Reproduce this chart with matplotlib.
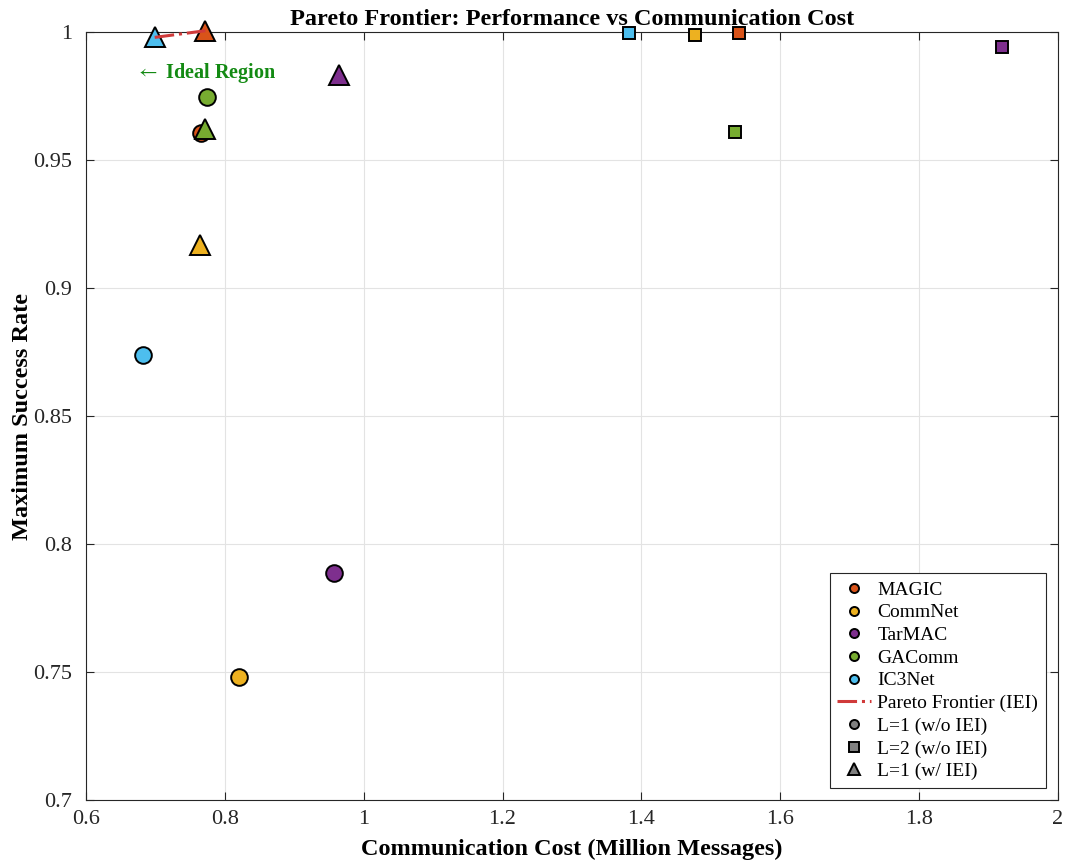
import numpy as np
import matplotlib
matplotlib.use('Agg')
import matplotlib.pyplot as plt
from matplotlib.lines import Line2D

plt.rcParams['font.family'] = ['Liberation Serif', 'DejaVu Serif']
plt.rcParams['mathtext.fontset'] = 'stix'

methods = ['MAGIC', 'CommNet', 'TarMAC', 'GAComm', 'IC3Net']
colors = ['#D95319', '#EDB120', '#7E2F8E', '#77AC30', '#4DBEEE']

# L=1 without IEI (circles)
cost_l1 = [0.766, 0.821, 0.957, 0.774, 0.682]
succ_l1 = [0.9605, 0.7482, 0.7888, 0.9745, 0.8738]
# L=2 without IEI (squares)
cost_l2 = [1.540, 1.477, 1.919, 1.535, 1.382]
succ_l2 = [0.9998, 0.9990, 0.9943, 0.9608, 0.9997]
# L=1 with IEI (triangles)
cost_iei = [0.772, 0.764, 0.965, 0.772, 0.699]
succ_iei = [1.0005, 0.9167, 0.9832, 0.9620, 0.9979]

# pareto frontier over the IEI runs
pareto_methods = ['IC3Net', 'MAGIC']

xticks = [0.6, 0.8, 1.0, 1.2, 1.4, 1.6, 1.8, 2.0]
xtick_labels = ['0.6', '0.8', '1', '1.2', '1.4', '1.6', '1.8', '2']
yticks = [0.7, 0.75, 0.8, 0.85, 0.9, 0.95, 1.0]
ytick_labels = ['0.7', '0.75', '0.8', '0.85', '0.9', '0.95', '1']

fig = plt.figure(figsize=(10.68, 8.65), dpi=100)
ax = fig.add_axes([0.0805, 0.0751, 0.9101, 0.8879])

edge = dict(markeredgecolor='black', markeredgewidth=1.4, linestyle='none')
for i, m in enumerate(methods):
    ax.plot(cost_l1[i], succ_l1[i], marker='o', markersize=12,
            markerfacecolor=colors[i], zorder=3, clip_on=False, **edge)
for i, m in enumerate(methods):
    ax.plot(cost_l2[i], succ_l2[i], marker='s', markersize=8,
            markerfacecolor=colors[i], zorder=3, clip_on=False, **edge)
for i, m in enumerate(methods):
    ax.plot(cost_iei[i], succ_iei[i], marker='^', markersize=15,
            markerfacecolor=colors[i], zorder=3, clip_on=False, **edge)

px = [cost_iei[methods.index(m)] for m in pareto_methods]
py = [succ_iei[methods.index(m)] for m in pareto_methods]
ax.plot(px, py, linestyle='-.', color='#D03A3A', linewidth=2.2, zorder=4,
        clip_on=False)

ax.text(0.672, 0.984, r'$\leftarrow$ Ideal Region', color='#138A13',
        fontsize=14.5, fontweight='bold', va='center', ha='left')

ax.set_xlim(0.6, 2.0)
ax.set_ylim(0.7, 1.0)
ax.set_xticks(xticks)
ax.set_xticklabels(xtick_labels)
ax.set_yticks(yticks)
ax.set_yticklabels(ytick_labels)
ax.tick_params(direction='in', top=True, right=True, labelsize=16,
               length=6, width=0.8, color='#262626', labelcolor='#262626')
ax.tick_params(axis='y', pad=10)
ax.tick_params(axis='x', pad=7)
ax.grid(True, color='#E3E3E3', linewidth=0.8)
ax.set_axisbelow(True)
for s in ax.spines.values():
    s.set_color('#262626')
    s.set_linewidth(0.8)

ax.set_xlabel('Communication Cost (Million Messages)', fontsize=17.5,
              fontweight='bold', labelpad=7)
ax.set_ylabel('Maximum Success Rate', fontsize=17.5, fontweight='bold',
              labelpad=0)
ax.set_title('Pareto Frontier: Performance vs Communication Cost',
             fontsize=17.5, fontweight='bold', pad=5)

handles = []
for i, m in enumerate(methods):
    handles.append(Line2D([], [], marker='o', markersize=6.5,
                          markerfacecolor=colors[i], label=m, **edge))
handles.append(Line2D([], [], linestyle='-.', color='#D03A3A', linewidth=2.2,
                      label='Pareto Frontier (IEI)'))
gray_marks = [('o', 'L=1 (w/o IEI)'), ('s', 'L=2 (w/o IEI)'),
              ('^', 'L=1 (w/ IEI)')]
for mk, lab in gray_marks:
    handles.append(Line2D([], [], marker=mk, markersize=6.5 if mk != '^' else 8,
                          markerfacecolor='#808080', label=lab, **edge))

leg = ax.legend(handles=handles, loc='lower right',
                bbox_to_anchor=(0.9877, 0.0156), fontsize=14,
                fancybox=False, framealpha=1, edgecolor='#262626',
                borderpad=0.4, labelspacing=0.26, handlelength=1.7,
                handletextpad=0.35, borderaxespad=0)
leg.get_frame().set_linewidth(0.8)

fig.savefig('out.png', dpi=100)
